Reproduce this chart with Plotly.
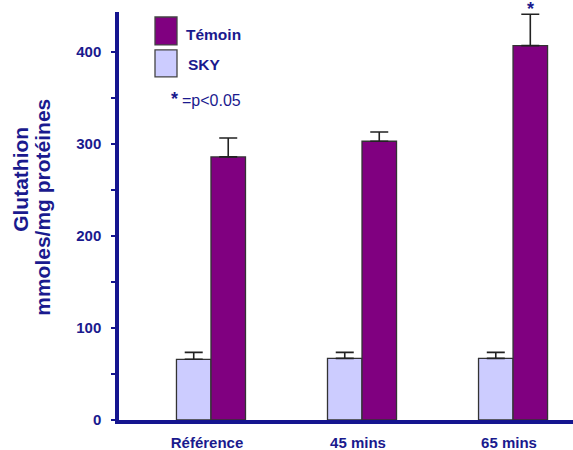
import plotly.graph_objects as go

# Glutathion levels per time point (mmoles/mg protéines)
categories = ["Référence", "45 mins", "65 mins"]
sky_values = [66, 67, 67]
sky_errors = [7.5, 6.5, 6.5]
temoin_values = [286, 303, 407]
temoin_errors = [20.5, 10, 34]
significant = [False, False, True]
y_ticks = [0, 100, 200, 300, 400]
y_minor_ticks = [50, 150, 250, 350]

NAVY = "#1a1a8e"
AXIS = "#15158f"
PURPLE = "#800080"
LAVENDER = "#ccccff"
FONT = "Arial, Liberation Sans, sans-serif"

# plot area in pixels
L, T, B = 119, 12, 29.5
W, H = 573 - L, 450 - T - B


def px(x):
    return (x - L) / W


def py(y):
    return (450 - B - y) / H


fig = go.Figure()

fig.add_trace(go.Bar(
    name="SKY", x=categories, y=sky_values,
    marker=dict(color=LAVENDER, line=dict(color="#333333", width=1.3)),
    error_y=dict(type="data", array=sky_errors, arrayminus=[0] * 3,
                 symmetric=False, color="#222222", thickness=1.6, width=9),
))
fig.add_trace(go.Bar(
    name="Témoin", x=categories, y=temoin_values,
    marker=dict(color=PURPLE, line=dict(color="#333333", width=1.3)),
    error_y=dict(type="data", array=temoin_errors, arrayminus=[0] * 3,
                 symmetric=False, color="#222222", thickness=1.6, width=9),
))

# Significance stars above the Témoin bars
for cat, v, e, sig in zip(categories, temoin_values, temoin_errors, significant):
    if sig:
        fig.add_annotation(x=cat, y=v + e, xref="x", yref="y", text="<b>*</b>",
                           showarrow=False, xshift=17, yshift=5,
                           font=dict(family=FONT, size=18, color=NAVY))

# Legend drawn as boxes with labels
fig.add_shape(type="rect", xref="paper", yref="paper",
              x0=px(155), x1=px(177), y0=py(45), y1=py(17),
              fillcolor=PURPLE, line=dict(color="#444444", width=1.3))
fig.add_shape(type="rect", xref="paper", yref="paper",
              x0=px(155), x1=px(177), y0=py(77), y1=py(50),
              fillcolor=LAVENDER, line=dict(color="#444444", width=1.3))
fig.add_annotation(xref="paper", yref="paper", x=px(184), y=py(35),
                   text="<b>Témoin</b>", showarrow=False, xanchor="left", yanchor="middle",
                   font=dict(family=FONT, size=15.5, color=NAVY))
fig.add_annotation(xref="paper", yref="paper", x=px(186), y=py(65),
                   text="<b>SKY</b>", showarrow=False, xanchor="left", yanchor="middle",
                   font=dict(family=FONT, size=15.5, color=NAVY))
fig.add_annotation(xref="paper", yref="paper", x=px(169), y=py(99),
                   text="<b>*</b>", showarrow=False, xanchor="left", yanchor="middle",
                   font=dict(family=FONT, size=18, color=NAVY))
fig.add_annotation(xref="paper", yref="paper", x=px(180), y=py(101),
                   text="=p<0.05", showarrow=False, xanchor="left", yanchor="middle",
                   font=dict(family=FONT, size=16, color=NAVY))

# Two-line rotated y title
fig.add_annotation(xref="paper", yref="paper", x=px(21), y=py(180),
                   text="<b>Glutathion</b>", showarrow=False, textangle=-90,
                   xanchor="center", yanchor="middle",
                   font=dict(family=FONT, size=21, color=NAVY))
fig.add_annotation(xref="paper", yref="paper", x=px(43), y=py(208),
                   text="<b>mmoles/mg protéines</b>", showarrow=False, textangle=-90,
                   xanchor="center", yanchor="middle",
                   font=dict(family=FONT, size=21, color=NAVY))

fig.update_layout(
    width=573, height=450,
    margin=dict(l=L, r=0, t=T, b=B),
    barmode="group", bargap=0.543, bargroupgap=0,
    plot_bgcolor="white", paper_bgcolor="white",
    showlegend=False,
    font=dict(family=FONT, color=NAVY),
)
fig.update_xaxes(
    range=[-0.609, 2.397], showgrid=False, zeroline=False,
    showline=True, linecolor=AXIS, linewidth=3.5,
    ticks="", tickfont=dict(family=FONT, size=15, color=NAVY),
    tickprefix="<b>", ticksuffix="</b>",
    ticklabelstandoff=6, ticklabelshift=-4,
)
y_range = [0, 443.5]
fig.update_yaxes(
    range=y_range, showgrid=False, zeroline=False,
    showline=True, linecolor=AXIS, linewidth=3.5,
    tickmode="array", tickvals=y_ticks,
    ticktext=[f"<b>{v}</b>" for v in y_ticks],
    ticks="outside", ticklen=4, tickwidth=1.5, tickcolor=AXIS,
    minor=dict(tickvals=y_minor_ticks, ticks="outside", ticklen=4,
               tickwidth=1.5, tickcolor=AXIS),
    tickfont=dict(family=FONT, size=15, color=NAVY),
    ticklabelstandoff=7,
)
# inner half of the crossing tick marks
fig.update_layout(yaxis2=dict(
    overlaying="y", side="left", range=y_range, showgrid=False, zeroline=False,
    showline=False, showticklabels=False,
    tickmode="array", tickvals=y_ticks,
    ticks="inside", ticklen=4, tickwidth=1.5, tickcolor=AXIS,
    minor=dict(tickvals=y_minor_ticks, ticks="inside", ticklen=4,
               tickwidth=1.5, tickcolor=AXIS),
))

fig.write_html("out.html")
